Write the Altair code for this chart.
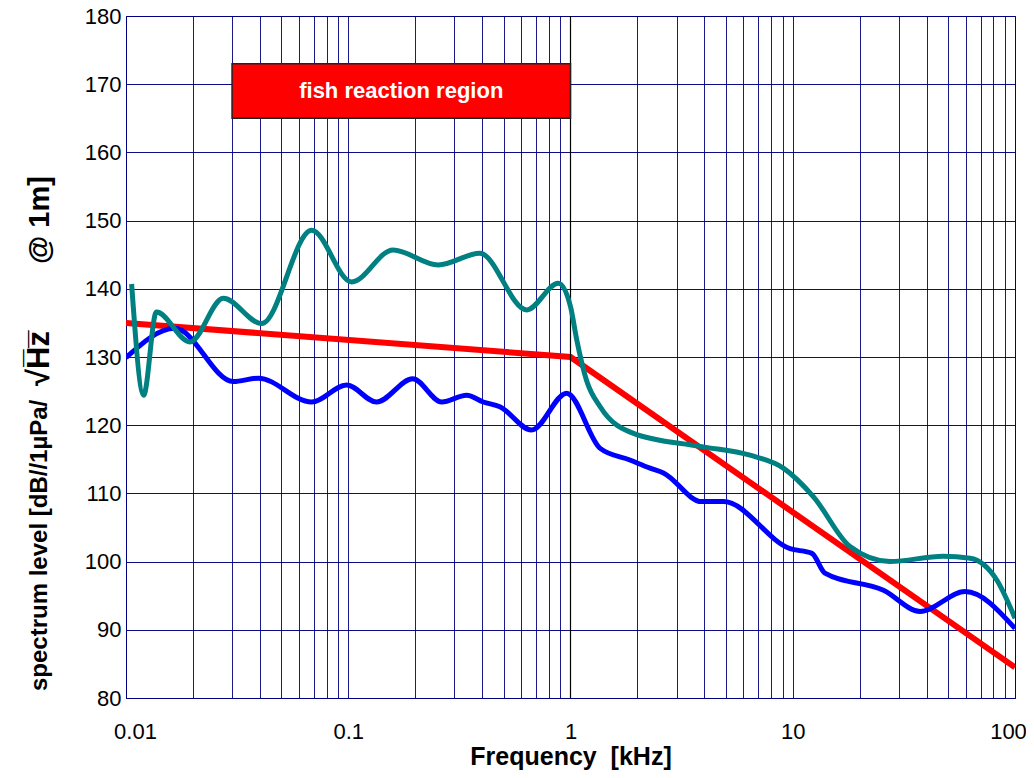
import altair as alt
import pandas as pd

# ---- data ----
blue_f = [0.01, 0.0166, 0.0304, 0.0394, 0.0684, 0.0984, 0.134, 0.195, 0.263, 0.341, 0.405,
          0.481, 0.668, 0.962, 1.36, 1.85, 2.28, 2.62, 3.89, 4.87, 9.72, 12.2, 13.96, 25.6,
          37.4, 59.6, 100]
blue_v = [129.9, 134.2, 126.4, 126.9, 123.4, 125.9, 123.4, 126.8, 123.4, 124.4, 123.4,
          122.7, 119.3, 124.7, 116.6, 114.9, 113.7, 113.0, 108.8, 108.8, 101.9, 101.2, 98.3, 95.8,
          92.7, 95.6, 90.2]

teal_f = [0.0106, 0.0120, 0.0137, 0.0194, 0.0274, 0.0408, 0.0684, 0.1036, 0.159, 0.254, 0.391,
          0.635, 0.881, 1.0, 1.067, 1.18, 1.36, 1.92, 3.83, 6.42, 9.07, 12.4, 18.1, 27.4, 47.5,
          62.8, 82.8, 100]
teal_v = [140.7, 124.4, 136.6, 132.2, 138.6, 134.9, 148.6, 141.0, 145.7, 143.5, 145.2,
          136.9, 140.8, 137.4, 132.5, 126.6, 122.7, 118.8, 116.9, 115.6, 113.7, 109.5, 102.2, 100.0, 100.8,
          100.5, 97.3, 91.7]

red_f = [0.01, 1, 100]
red_v = [135, 130, 84.5]

region_f = [0.03, 1]
region_v = [165, 173]
region_text = "fish reaction region"

y_ticks = [80, 90, 100, 110, 120, 130, 140, 150, 160, 170, 180]
minor_mult = [1, 2, 3, 4, 5, 6, 7, 8, 9]
decades = [-2, -1, 0, 1]

y_title_1 = "spectrum level [dB//1\u00b5Pa/"
y_title_2 = "\u221aH\u0305z\u0305"
y_title_3 = "@ 1m]"
x_title = "Frequency\u00a0\u00a0[kHz]"

grid_x = [round(m * 10 ** e, 6) for e in decades for m in minor_mult] + [100]

NAVY = "#000080"
FONT = "Liberation Sans"

xscale = alt.Scale(type="log", domain=[0.01, 100], nice=False)
yscale = alt.Scale(domain=[80, 180], nice=False, zero=False)

red_df = pd.DataFrame({"f": red_f, "v": red_v})
blue_df = pd.DataFrame({"f": blue_f, "v": blue_v})
teal_df = pd.DataFrame({"f": teal_f, "v": teal_v})
region_df = pd.DataFrame({"f": [region_f[0]], "f2": [region_f[1]],
                          "v": [region_v[0]], "v2": [region_v[1]],
                          "fc": [(region_f[0] * region_f[1]) ** 0.5],
                          "vc": [(region_v[0] + region_v[1]) / 2],
                          "t": [region_text]})
one_df = pd.DataFrame({"f": [1]})

x_axis = alt.Axis(
    values=grid_x, grid=True, gridColor=NAVY, gridOpacity=0.9, gridWidth=1,
    ticks=False, domain=False,
    labelExpr="indexof([0.01,0.1,1,10,100], datum.value) >= 0 ? '' + datum.value : ''",
    labelOffset={"condition": [{"test": "datum.value == 100", "value": -7},
                               {"test": "datum.value == 0.01", "value": 9}], "value": 0},
    labelFont=FONT, labelFontSize=22, labelColor="black", labelPadding=23,
    labelOverlap=False, labelFlush=False, labelBound=False,
    title=x_title, titleFont=FONT, titleFontSize=25,
    titleFontWeight="bold", titleColor="black", titleY=66, titleBaseline="alphabetic",
)
y_axis = alt.Axis(
    values=y_ticks, grid=True, gridColor=NAVY, gridOpacity=0.95, gridWidth=1,
    ticks=False, domain=False,
    labelFont=FONT, labelFontSize=22, labelColor="black", labelPadding=5,
    labelOverlap=False, labelFlush=False, labelBound=False,
    title=None,
)


def X(field):
    return alt.X(field, type="quantitative", scale=xscale, axis=x_axis)


def Y(field):
    return alt.Y(field, type="quantitative", scale=yscale, axis=y_axis)


red = alt.Chart(red_df).mark_line(color="#FF0000", strokeWidth=6, clip=True).encode(
    x=X("f"), y=Y("v"),
)

one_line = alt.Chart(one_df).mark_rule(color="black", strokeWidth=1.2).encode(
    x=X("f"),
)

rect = alt.Chart(region_df).mark_rect(fill="#FF0000", stroke="#222222", strokeWidth=1.5).encode(
    x=X("f"), x2="f2:Q",
    y=Y("v"), y2="v2:Q",
)
rect_text = alt.Chart(region_df).mark_text(
    color="white", font=FONT, fontSize=22, fontWeight="bold", baseline="middle", align="center"
).encode(
    x=X("fc"), y=Y("vc"), text="t:N",
)

blue = alt.Chart(blue_df).mark_line(color="#0000FF", strokeWidth=5, interpolate="monotone", clip=True).encode(
    x=X("f"), y=Y("v"),
)
teal = alt.Chart(teal_df).mark_line(color="#008080", strokeWidth=5, interpolate="monotone", clip=True).encode(
    x=X("f"), y=Y("v"),
)


def ytitle_part(txt, size, start):
    return alt.Chart(pd.DataFrame({"t": [txt]})).mark_text(
        font=FONT, fontSize=size, fontWeight="bold", color="black",
        angle=270, align="left", baseline="middle",
    ).encode(x=alt.value(-86), y=alt.value(start), text="t:N")


t1 = ytitle_part(y_title_1, 24, 675)
t2 = ytitle_part(y_title_2, 31, 370)
t3 = ytitle_part(y_title_3, 29, 248)

chart = alt.layer(red, one_line, rect, rect_text, blue, teal, t1, t2, t3).properties(
    width=889, height=682,
    autosize=alt.AutoSizeParams(type="none"),
    padding={"left": 118, "top": 8, "right": 11, "bottom": 72},
    background="white",
).configure_view(stroke=NAVY, strokeWidth=1)

chart.save("out.html", embed_options={"renderer": "svg", "actions": False})
